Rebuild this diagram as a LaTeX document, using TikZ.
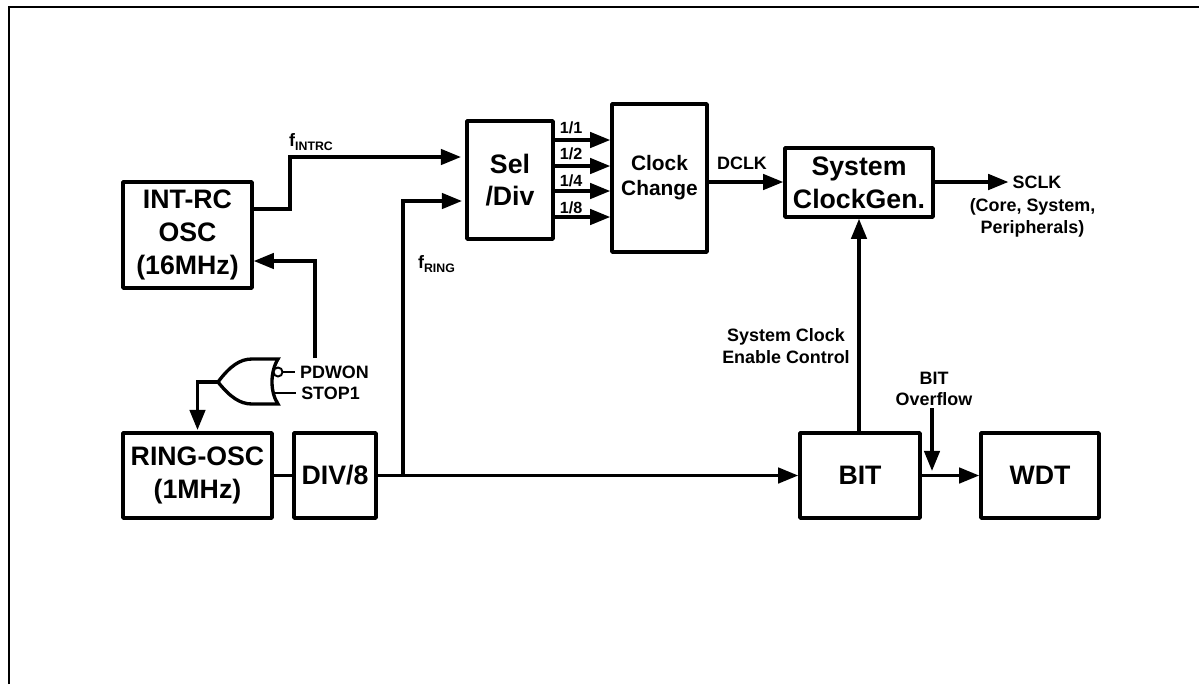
\documentclass[tikz,border=0pt]{standalone}
\usepackage{fontspec}
\setmainfont{Liberation Sans}
\usetikzlibrary{arrows.meta, positioning}
\newcommand{\fsub}[1]{{\fontsize{10.2}{12}\selectfont f}\raisebox{-2pt}{\fontsize{7}{7}\selectfont #1}}
\tikzset{
    blockbig/.style={draw, line width=2pt, line join=round, align=center, inner sep=0pt, font=\fontsize{15.2}{18.6}\bfseries\selectfont},
    blocksmall/.style={blockbig, font=\fontsize{11.9}{14.2}\bfseries\selectfont},
    tag/.style={inner sep=0pt, align=center, font=\fontsize{10.2}{12.2}\bfseries\selectfont},
    ratio/.style={tag, font=\fontsize{9.2}{11}\bfseries\selectfont},
    wire/.style={line width=1.9pt, line join=miter},
    thinwire/.style={line width=1.1pt},
    arrowed/.style={wire, -{Triangle[length=11.5pt, width=8.8pt]}}
}
\begin{document}
\begin{tikzpicture}[x=0.02cm, y=-0.02cm]
    \useasboundingbox (0,0) rectangle (1199,684);
    \draw[line width=1.1pt] (9,684) -- (9,7) -- (1199,7);

    % blocks
    \node[blockbig, minimum width=2.58cm, minimum height=2.12cm] (intosc) at (187.5,235) {INT-RC\\OSC\\(16MHz)};
    \node[blockbig, minimum width=2.98cm, minimum height=1.7cm] (ringosc) at (197.5,475.5) {RING-OSC\\(1MHz)};
    \node[blockbig, minimum width=1.64cm, minimum height=1.7cm] (div) at (335,475.5) {DIV/8};
    \node[blockbig, minimum width=1.72cm, minimum height=2.36cm] (seldiv) at (510,180) {Sel\\/Div};
    \node[blocksmall, minimum width=1.9cm, minimum height=2.96cm] (change) at (659.5,178) {Clock\\Change};
    \node[blockbig, minimum width=2.96cm, minimum height=1.38cm] (sysclk) at (859,182.5) {System\\ClockGen.};
    \node[blockbig, minimum width=2.4cm, minimum height=1.7cm] (bit) at (860,475.5) {BIT};
    \node[blockbig, minimum width=2.36cm, minimum height=1.7cm] (wdt) at (1040,475.5) {WDT};

    % labels
    \node[tag] (fintrc) at (311,142) {\fsub{INTRC}};
    \node[tag] (fring) at (436.5,264) {\fsub{RING}};
    \node[ratio] (r1) at (571,128) {1/1};
    \node[ratio] (r2) at (571,154) {1/2};
    \node[ratio] (r4) at (571,181) {1/4};
    \node[ratio] (r8) at (571,208) {1/8};
    \node[tag] (dclk) at (742,163) {DCLK};
    \node[tag, inner xsep=2.2pt] (sclk) at (1037,182) {SCLK};
    \node[tag] (periph) at (1032.5,218) {(Core, System,\\Peripherals)};
    \node[tag] (enable) at (786,346) {System Clock\\Enable Control};
    \node[tag] (overflow) at (934,389) {BIT\\Overflow};
    \node[tag, inner xsep=3pt] (pdwon) at (334.5,372) {PDWON};
    \node[tag, inner xsep=3pt] (stop) at (330.5,393) {STOP1};

    % nor gate
    \coordinate (norout) at (218,382);
    \coordinate (norup) at (278,359);
    \coordinate (nordown) at (278,404);
    \draw[wire] (norout) .. controls (230,366) and (240,359) .. (252,359) -- (norup)
        .. controls (270,372) and (270,392) .. (nordown) -- (252,404)
        .. controls (240,404) and (230,397) .. (norout);
    \draw[thinwire, fill=white] (278,372) circle (4.5);
    \draw[thinwire] (282.5,372) -- (pdwon.west);
    \draw[thinwire] (273,393) -- (stop.west);
    \draw[arrowed] (norout) -| (ringosc.north |- 0,430);

    % connectors
    \coordinate (enfb) at (315,358);
    \coordinate (ovtop) at (932,408);
    \coordinate (ringtap) at (403,475.5);
    \draw[arrowed] (enfb) |- (intosc.east |- 0,261);
    \draw[arrowed] (intosc.east |- 0,209) -- (290,209) |- (461,157);
    \draw[arrowed] (ringtap) |- (462,201);
    \draw[wire] (ringosc.east) -- (div.west);
    \draw[arrowed] (div.east) -- (bit.west);
    \draw[arrowed] (seldiv.east |- 0,140) -- (change.west |- 0,140);
    \draw[arrowed] (seldiv.east |- 0,166) -- (change.west |- 0,166);
    \draw[arrowed] (seldiv.east |- 0,191) -- (change.west |- 0,191);
    \draw[arrowed] (seldiv.east |- 0,217) -- (change.west |- 0,217);
    \draw[arrowed] (change.east |- 0,182) -- (sysclk.west |- 0,182);
    \draw[arrowed] (sysclk.east |- 0,182) -- (sclk.west);
    \draw[arrowed] (sysclk.south |- bit.north) -- (sysclk.south);
    \draw[arrowed] (bit.east) -- (wdt.west);
    \draw[arrowed] (ovtop) -- (932,471);
\end{tikzpicture}
\end{document}
